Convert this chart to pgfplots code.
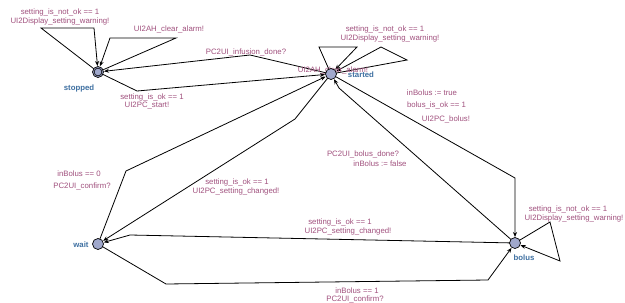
\documentclass[border=0pt]{standalone}
\usepackage{pgfplots}
\pgfplotsset{compat=1.18}
\usepackage{fontspec}
\setmainfont{Liberation Sans}
\usetikzlibrary{arrows.meta}
\definecolor{lab}{RGB}{160,80,125}
\definecolor{nam}{RGB}{60,110,160}
\definecolor{nfill}{RGB}{160,168,204}
\tikzset{
  lbl/.style={font=\fontsize{7.8}{9}\selectfont, text=lab, inner sep=0pt},
  nm/.style={font=\fontsize{7.8}{9}\selectfont\bfseries, text=nam, inner sep=0pt},
  edge/.style={black, solid, mark=none, line width=0.8pt, -{Stealth[length=5pt,width=4pt]}},
}
\begin{document}
\begin{tikzpicture}
\begin{axis}[
  scale only axis, width=625pt, height=303pt,
  xmin=0, xmax=625, ymin=0, ymax=303, y dir=reverse,
  hide axis, clip=false,
]
% stopped self loops
\addplot[edge] coordinates {(98,72) (41,28) (94,28) (97.5,66)};
\addplot[edge] coordinates {(98,72) (176,38) (110,38) (100,66.3)};
% started -> stopped
\addplot[edge] coordinates {(331,74) (250,55) (104,71.3)};
% stopped -> started
\addplot[edge] coordinates {(98,72) (137,91) (325,74.5)};
% started self loops
\addplot[edge] coordinates {(331,74) (319,47) (357,47) (335.2,69.7)};
\addplot[edge] coordinates {(331,74) (407,60) (381,47) (336.3,71.2)};
% started -> bolus
\addplot[edge] coordinates {(331,74) (515,178) (515,237)};
% bolus -> started
\addplot[edge] coordinates {(515,243) (339,88) (334,79.2)};
% wait -> started
\addplot[edge] coordinates {(98,244) (126,171) (325.6,76.6)};
% started -> wait
\addplot[edge] coordinates {(331,74) (295,119) (103.1,240.8)};
% bolus -> wait
\addplot[edge] coordinates {(515,243) (130,235) (103.8,242.4)};
% wait -> bolus
\addplot[edge] coordinates {(98,244) (166,284) (488,280) (511.5,247.9)};
% bolus self loop
\addplot[edge] coordinates {(515,243) (550,222) (560,261) (520.6,245.2)};
% locations
\addplot[only marks, mark=*, mark size=5.5pt, mark options={fill=nfill, draw=black, line width=0.7pt}]
  coordinates {(98,72) (331,74) (98,244) (515,243)};
\addplot[only marks, mark=o, mark size=3.9pt, mark options={draw=black, line width=0.6pt}]
  coordinates {(98,72)};
% location names
\node[nm] at (axis cs:79,88) {stopped};
\node[nm] at (axis cs:361,74.5) {started};
\node[nm] at (axis cs:81,245) {wait};
\node[nm] at (axis cs:524,258) {bolus};
% edge labels
\node[lbl] at (axis cs:60,12) {setting\_is\_not\_ok == 1};
\node[lbl] at (axis cs:60,21) {UI2Display\_setting\_warning!};
\node[lbl] at (axis cs:169,29) {UI2AH\_clear\_alarm!};
\node[lbl] at (axis cs:246,52) {PC2UI\_infusion\_done?};
\node[lbl] at (axis cs:152,97) {setting\_is\_ok == 1};
\node[lbl] at (axis cs:147,105.5) {UI2PC\_start!};
\node[lbl] at (axis cs:385,29) {setting\_is\_not\_ok == 1};
\node[lbl] at (axis cs:390,38) {UI2Display\_setting\_warning!};
\node[lbl] at (axis cs:333,70) {UI2AH\_clear\_alarm!};
\node[lbl] at (axis cs:432,92.5) {inBolus := true};
\node[lbl] at (axis cs:436.5,105.5) {bolus\_is\_ok == 1};
\node[lbl] at (axis cs:446,119) {UI2PC\_bolus!};
\node[lbl] at (axis cs:363,154) {PC2UI\_bolus\_done?};
\node[lbl] at (axis cs:380,164) {inBolus := false};
\node[lbl] at (axis cs:79,173.5) {inBolus == 0};
\node[lbl] at (axis cs:82,186) {PC2UI\_confirm?};
\node[lbl] at (axis cs:237,182.5) {setting\_is\_ok == 1};
\node[lbl] at (axis cs:236,191) {UI2PC\_setting\_changed!};
\node[lbl] at (axis cs:340,222.5) {setting\_is\_ok == 1};
\node[lbl] at (axis cs:348,231) {UI2PC\_setting\_changed!};
\node[lbl] at (axis cs:357,291) {inBolus == 1};
\node[lbl] at (axis cs:355,299) {PC2UI\_confirm?};
\node[lbl] at (axis cs:568,209.5) {setting\_is\_not\_ok == 1};
\node[lbl] at (axis cs:574,218.5) {UI2Display\_setting\_warning!};
\end{axis}
\pgfresetboundingbox
\path[use as bounding box] (current axis.south west) rectangle (current axis.north east);
\end{tikzpicture}
\end{document}
